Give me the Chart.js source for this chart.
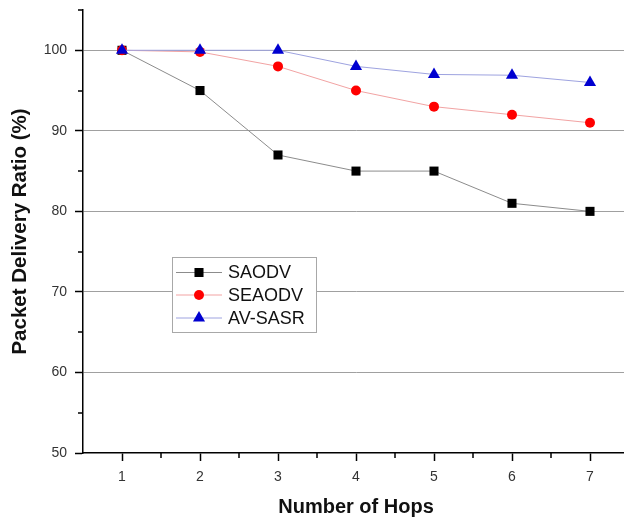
<!DOCTYPE html>
<html>
<head>
<meta charset="utf-8">
<script src="https://cdn.jsdelivr.net/npm/chart.js@4/dist/chart.umd.min.js"></script>
<style>
  html, body { margin: 0; padding: 0; background: #fff; overflow: hidden; }
  #wrap { width: 624px; height: 519px; overflow: hidden; }
  canvas { display: block; }
</style>
</head>
<body>
<div id="wrap"><canvas id="chart" width="636" height="519"></canvas></div>
<script>
// data
const hops = [1, 2, 3, 4, 5, 6, 7];
const saodv = [100, 95, 87, 85, 85, 81, 80];
const seaodv = [100, 99.8, 98, 95, 93, 92, 91];
const avSasr = [100, 100, 100, 98, 97, 96.9, 96];
const yTicks = [50, 60, 70, 80, 90, 100];

const series = [
    { label: "SAODV", data: saodv, line: "#8c8c8c", fill: "#000000", style: "rect", r: 6.4 },
    { label: "SEAODV", data: seaodv, line: "#f2a3a3", fill: "#ff0000", style: "circle", r: 5 },
    { label: "AV-SASR", data: avSasr, line: "#9ea3e0", fill: "#0000d0", style: "triangle", r: 7 }
];

function drawMarker(ctx, style, x, y, r, color) {
    ctx.fillStyle = color;
    ctx.beginPath();
    if (style === "rect") {
        const s = r * Math.SQRT1_2;
        ctx.rect(x - s, y - s, 2 * s, 2 * s);
    } else if (style === "circle") {
        ctx.arc(x, y, r, 0, Math.PI * 2);
    } else {
        ctx.moveTo(x, y - r);
        ctx.lineTo(x + r * 0.866, y + r * 0.5);
        ctx.lineTo(x - r * 0.866, y + r * 0.5);
        ctx.closePath();
    }
    ctx.fill();
}

// short minor ticks (halves on x, odd fives on y)
const minorTicks = {
    id: "minorTicks",
    afterDraw(chart) {
        const { ctx, scales: { x, y } } = chart;
        ctx.save();
        ctx.strokeStyle = "#000";
        ctx.lineWidth = 1.5;
        ctx.beginPath();
        for (let v = 1.5; v < 7.5; v += 1) {
            const px = Math.round(x.getPixelForValue(v));
            ctx.moveTo(px, y.bottom);
            ctx.lineTo(px, y.bottom + 5);
        }
        for (let v = 55; v <= 105; v += 10) {
            const py = Math.round(y.getPixelForValue(v));
            ctx.moveTo(x.left, py);
            ctx.lineTo(x.left - 5, py);
        }
        ctx.stroke();
        ctx.restore();
    }
};

// legend box sitting inside the plot
const boxLegend = {
    id: "boxLegend",
    afterDraw(chart) {
        const ctx = chart.ctx;
        ctx.save();
        ctx.fillStyle = "#fff";
        ctx.strokeStyle = "#a8a8a8";
        ctx.lineWidth = 1;
        ctx.fillRect(172.5, 257.5, 144, 75);
        ctx.strokeRect(172.5, 257.5, 144, 75);
        const rows = [272.5, 295, 318];
        series.forEach((s, i) => {
            const y = rows[i];
            ctx.strokeStyle = s.line;
            ctx.beginPath();
            ctx.moveTo(176, y);
            ctx.lineTo(222, y);
            ctx.stroke();
            drawMarker(ctx, s.style, 199, y, s.r, s.fill);
            ctx.fillStyle = "#111";
            ctx.font = "18px 'Liberation Sans', Arial, sans-serif";
            ctx.textBaseline = "middle";
            ctx.fillText(s.label, 228, y + 1);
        });
        ctx.restore();
    }
};

const whiteBg = {
    id: "whiteBg",
    beforeDraw(chart) {
        const ctx = chart.ctx;
        ctx.save();
        ctx.fillStyle = "#fff";
        ctx.fillRect(0, 0, chart.width, chart.height);
        ctx.restore();
    }
};

const ctx = document.getElementById("chart").getContext("2d");
new Chart(ctx, {
    type: "line",
    data: {
        datasets: series.map((s) => ({
            label: s.label,
            data: s.data.map((v, i) => ({ x: hops[i], y: v })),
            borderColor: s.line,
            borderWidth: 1,
            backgroundColor: s.fill,
            pointBackgroundColor: s.fill,
            pointBorderColor: s.fill,
            pointBorderWidth: 0,
            pointStyle: s.style,
            pointRadius: s.r,
            tension: 0
        })).reverse()
    },
    options: {
        responsive: false,
        animation: false,
        layout: { padding: { top: 10, right: 2, left: 0, bottom: 0 } },
        plugins: {
            legend: { display: false },
            tooltip: { enabled: false }
        },
        scales: {
            x: {
                type: "linear",
                min: 0.5,
                max: 7.5,
                afterBuildTicks(scale) {
                    scale.ticks = hops.map((v) => ({ value: v }));
                },
                afterFit(scale) {
                    scale.height = 66;
                    scale.paddingLeft = 0;
                    scale.paddingRight = 0;
                },
                border: { color: "#000", width: 1.5 },
                grid: {
                    drawOnChartArea: false,
                    tickLength: 8,
                    tickWidth: 1.5,
                    tickColor: "#000"
                },
                ticks: {
                    autoSkip: false,
                    maxRotation: 0,
                    padding: 8,
                    color: "#333",
                    font: { family: "'Liberation Sans', Arial, sans-serif", size: 14 },
                    callback: (v) => String(v)
                },
                title: {
                    display: true,
                    text: "Number of Hops",
                    color: "#111",
                    font: { family: "'Liberation Sans', Arial, sans-serif", size: 20, weight: "bold" },
                    padding: { top: 0, bottom: 0 }
                }
            },
            y: {
                min: 50,
                max: 105,
                afterBuildTicks(scale) {
                    scale.ticks = yTicks.map((v) => ({ value: v }));
                },
                afterFit(scale) {
                    scale.width = 83;
                    scale.paddingTop = 0;
                    scale.paddingBottom = 0;
                },
                border: { color: "#000", width: 1.5 },
                grid: {
                    color: (c) => (c.tick && c.tick.value > 50 ? "#a0a0a0" : "transparent"),
                    lineWidth: 1,
                    tickLength: 8,
                    tickWidth: 1.5,
                    tickColor: "#000"
                },
                ticks: {
                    autoSkip: false,
                    padding: 8,
                    color: "#333",
                    font: { family: "'Liberation Sans', Arial, sans-serif", size: 14 },
                    callback: (v) => String(v)
                },
                title: {
                    display: true,
                    text: "Packet Delivery Ratio (%)",
                    align: "center",
                    color: "#111",
                    font: { family: "'Liberation Sans', Arial, sans-serif", size: 20.5, weight: "bold" },
                    padding: { top: 8, bottom: 0 }
                }
            }
        }
    },
    plugins: [whiteBg, minorTicks, boxLegend]
});
</script>
</body>
</html>
